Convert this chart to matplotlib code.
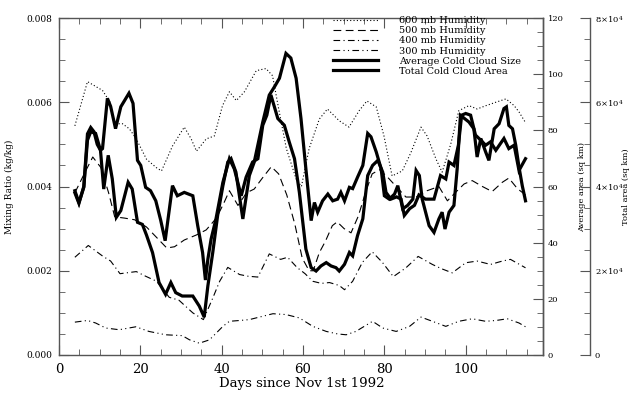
import matplotlib
matplotlib.use("Agg")
import matplotlib.pyplot as plt
from matplotlib.ticker import MultipleLocator, FuncFormatter

plt.rcParams['font.family'] = ['DejaVu Serif']
plt.rcParams['mathtext.fontset'] = 'dejavuserif'

# ---------------- data ----------------
days_600 = [3.9, 7.0, 10.7, 12.5, 13.7, 15.6, 17.3, 19.0, 21.5, 23.9, 25.2, 27.9, 30.8, 32.5, 33.8,
            36.2, 38.2, 40.2, 41.9, 43.6, 45.6, 48.5, 50.9, 52.5, 54.0, 55.9, 58.3, 59.6, 61.5, 64.0,
            66.0, 68.9, 71.3, 73.8, 75.7, 78.0, 79.9, 81.9, 84.4, 86.5, 89.0, 90.5, 92.7, 94.2, 96.3,
            98.3, 100.8, 102.8, 105.0, 107.4, 109.9, 111.9, 113.1, 114.8]
hum_600 = [0.00544, 0.00649, 0.00628, 0.00601, 0.00549, 0.00549, 0.00537, 0.00513, 0.00465, 0.00445,
           0.00437, 0.00496, 0.00541, 0.00513, 0.00484, 0.00513, 0.00520, 0.00592, 0.00625, 0.00604,
           0.00625, 0.00675, 0.00680, 0.00663, 0.00585, 0.00490, 0.00418, 0.00400, 0.00490, 0.00560,
           0.00584, 0.00556, 0.00541, 0.00580, 0.00603, 0.00589, 0.00520, 0.00425, 0.00437, 0.00480,
           0.00541, 0.00520, 0.00465, 0.00434, 0.00500, 0.00580, 0.00592, 0.00584, 0.00592, 0.00600,
           0.00608, 0.00592, 0.00577, 0.00550]

days_500 = [3.9, 6.3, 8.3, 10.3, 12.2, 13.7, 16.1, 18.6, 21.5, 23.9, 26.5, 28.4, 30.8, 33.8, 36.2,
            38.7, 40.5, 41.9, 44.0, 46.1, 48.0, 50.0, 52.2, 54.0, 56.0, 58.0, 59.8, 61.5, 62.5, 64.0,
            65.5, 67.2, 68.4, 70.1, 71.8, 73.6, 75.5, 77.0, 78.8, 80.8, 82.9, 85.3, 87.8, 90.5, 93.4,
            95.5, 97.5, 99.6, 101.6, 104.1, 106.5, 109.0, 110.6, 112.7, 114.7]
hum_500 = [0.00385, 0.00432, 0.00470, 0.00445, 0.00385, 0.00328, 0.00325, 0.00321, 0.00304, 0.00280,
           0.00254, 0.00257, 0.00273, 0.00285, 0.00297, 0.00325, 0.00360, 0.00390, 0.00355, 0.00385,
           0.00394, 0.00420, 0.00447, 0.00430, 0.00380, 0.00310, 0.00230, 0.00200, 0.00200, 0.00243,
           0.00270, 0.00307, 0.00316, 0.00300, 0.00290, 0.00330, 0.00390, 0.00430, 0.00440, 0.00422,
           0.00400, 0.00375, 0.00375, 0.00390, 0.00400, 0.00366, 0.00386, 0.00406, 0.00414, 0.00400,
           0.00388, 0.00410, 0.00420, 0.00395, 0.00380]

days_400 = [3.9, 7.2, 10.7, 12.7, 15.0, 19.0, 21.3, 24.0, 27.1, 29.5, 32.9, 35.5, 37.8, 39.5, 41.5,
            44.4, 46.5, 48.9, 51.7, 54.5, 56.2, 58.5, 60.5, 62.4, 64.5, 66.5, 68.9, 70.2, 72.2, 74.6,
            77.0, 79.5, 82.2, 85.3, 88.3, 91.8, 94.0, 96.7, 100.0, 102.8, 106.1, 109.0, 111.0, 114.7]
hum_400 = [0.00232, 0.00260, 0.00235, 0.00223, 0.00193, 0.00198, 0.00187, 0.00175, 0.00137, 0.00130,
           0.00100, 0.00084, 0.00135, 0.00175, 0.00208, 0.00191, 0.00187, 0.00185, 0.00240, 0.00227,
           0.00232, 0.00208, 0.00193, 0.00175, 0.00170, 0.00172, 0.00165, 0.00155, 0.00175, 0.00220,
           0.00245, 0.00220, 0.00186, 0.00207, 0.00234, 0.00215, 0.00205, 0.00195, 0.00219, 0.00223,
           0.00215, 0.00223, 0.00227, 0.00207]

days_300 = [3.9, 7.0, 9.0, 11.5, 14.8, 18.9, 22.1, 26.2, 30.3, 32.1, 34.5, 37.0, 40.3, 41.9, 44.5,
            46.8, 50.1, 52.6, 55.8, 59.1, 62.4, 65.7, 68.5, 70.6, 73.0, 77.1, 79.6, 82.9, 86.2, 89.0,
            91.8, 95.1, 98.3, 101.6, 104.9, 107.5, 110.2, 113.1, 114.7]
hum_300 = [0.00078, 0.00082, 0.00076, 0.00064, 0.00060, 0.00067, 0.00056, 0.00048, 0.00046, 0.00036,
           0.00028, 0.00036, 0.00068, 0.00080, 0.00082, 0.00084, 0.00092, 0.00098, 0.00096, 0.00088,
           0.00068, 0.00056, 0.00050, 0.00048, 0.00056, 0.00080, 0.00064, 0.00056, 0.00068, 0.00090,
           0.00080, 0.00068, 0.00080, 0.00086, 0.00080, 0.00082, 0.00086, 0.00076, 0.00067]

days_avg = [3.9, 4.9, 6.1, 7.0, 7.8, 9.0, 10.2, 10.7, 11.9, 12.7, 13.9, 15.2, 17.2, 18.2, 19.3, 20.1,
            21.3, 22.5, 23.8, 25.0, 26.1, 27.9, 29.1, 30.8, 32.9, 34.1, 35.3, 36.0, 36.6, 37.4, 38.6,
            40.3, 41.9, 43.1, 44.8, 46.0, 47.6, 48.9, 50.1, 51.1, 52.1, 53.8, 55.4, 56.6, 57.9, 59.1,
            60.7, 62.0, 63.2, 64.4, 65.7, 66.9, 68.1, 68.9, 70.2, 71.4, 72.2, 73.4, 74.7, 75.9, 77.1,
            78.4, 79.6, 80.4, 81.6, 83.0, 84.1, 84.9, 86.2, 87.4, 88.5, 90.1, 92.2, 93.8, 95.1, 95.9,
            97.1, 98.2, 99.0, 100.0, 101.2, 102.4, 103.7, 104.9, 106.1, 107.4, 109.4, 110.6, 111.9,
            113.1, 114.7]
avg_size = [58.5, 54.3, 59.7, 76.5, 79.5, 78.9, 72.9, 73.5, 91.4, 88.5, 80.6, 88.4, 93.2, 89.6, 69.3,
            67.5, 59.7, 58.5, 54.9, 48.0, 40.7, 60.3, 56.7, 57.9, 56.7, 46.1, 36.5, 26.7, 34.1, 41.3,
            48.5, 61.5, 69.9, 66.3, 56.7, 63.3, 68.7, 69.9, 81.8, 85.4, 92.6, 84.2, 81.8, 75.9, 69.9,
            57.9, 37.7, 31.1, 29.9, 31.7, 32.9, 31.7, 31.1, 29.9, 32.3, 36.5, 35.3, 42.5, 48.5, 63.9,
            67.5, 69.3, 65.1, 57.9, 55.5, 56.3, 55.5, 49.7, 52.1, 53.3, 57.0, 55.5, 55.5, 63.9, 62.7,
            68.7, 67.5, 74.7, 85.4, 86.0, 85.4, 78.3, 76.5, 74.7, 75.9, 72.9, 77.1, 73.5, 74.7, 65.7,
            69.9]

days_tot = [3.9, 4.9, 6.1, 7.0, 7.8, 8.6, 9.4, 10.2, 11.0, 12.1, 13.1, 14.1, 15.2, 17.0, 18.0, 19.3,
            20.5, 21.5, 23.0, 24.6, 26.2, 27.5, 28.7, 30.3, 32.9, 34.5, 35.7, 36.6, 37.8, 39.0, 40.3,
            41.5, 42.3, 43.5, 45.2, 46.8, 48.0, 50.1, 51.7, 53.0, 54.2, 55.8, 57.0, 58.3, 59.5, 60.7,
            62.0, 62.8, 63.6, 64.8, 66.1, 67.3, 68.5, 69.3, 70.2, 71.4, 72.2, 73.4, 74.7, 75.9, 76.7,
            78.0, 79.2, 80.0, 81.2, 82.5, 83.3, 84.5, 85.7, 87.0, 87.8, 88.6, 89.3, 91.0, 92.2, 93.4,
            94.2, 94.9, 95.9, 97.1, 97.9, 98.7, 100.8, 102.0, 102.8, 103.7, 104.9, 105.7, 107.0, 108.2,
            109.4, 110.0, 110.6, 111.5, 112.3, 113.1, 113.9, 114.7]
tot_area = [38500, 36000, 40000, 52500, 54000, 53000, 50000, 48600, 39400, 47400, 41800, 32700, 34300,
            41000, 39400, 31500, 31000, 28500, 24300, 17200, 14400, 17200, 14800, 14000, 14000, 11600,
            9000, 16400, 24300, 33100, 40200, 45800, 46600, 43400, 32300, 42600, 45800, 55300, 61700,
            63700, 65700, 71600, 70500, 65700, 56100, 44200, 31900, 36200, 33900, 36600, 38200, 36600,
            37000, 38600, 36600, 39800, 39500, 42200, 45000, 52600, 51800, 48200, 44200, 37800, 37000,
            38200, 40200, 34700, 35500, 37000, 43800, 42600, 37000, 30700, 29100, 32300, 33900, 29900,
            33900, 35500, 44200, 56900, 55300, 53700, 47000, 51400, 48200, 46200, 53700, 54900, 58500,
            58900, 54500, 53700, 49800, 44600, 40200, 36600]

labels = ["600 mb Humidity", "500 mb Humidity", "400 mb Humidity", "300 mb Humidity",
          "Average Cold Cloud Size", "Total Cold Cloud Area"]

# ---------------- figure ----------------
W, H = 629, 393
fig = plt.figure(figsize=(W / 100, H / 100), dpi=100)
L, R, T, B = 59, 543, 18, 355
ax = fig.add_axes([L / W, 1 - B / H, (R - L) / W, (B - T) / H])
ax2 = ax.twinx()
ax3 = ax.twinx()

spine_c = '#555555'
thin = 0.8
thick = 2.3
h1, = ax.plot(days_600, hum_600, color='k', lw=thin, ls=(0, (1, 2)))
h2, = ax.plot(days_500, hum_500, color='k', lw=thin, ls=(0, (7, 4)))
h3, = ax.plot(days_400, hum_400, color='k', lw=thin, ls=(0, (6, 3, 1, 3)))
h4, = ax.plot(days_300, hum_300, color='k', lw=thin, ls=(0, (6, 3, 1, 3, 1, 3)))
h5, = ax2.plot(days_avg, avg_size, color='k', lw=thick, solid_joinstyle='miter')
h6, = ax3.plot(days_tot, tot_area, color='k', lw=thick, solid_joinstyle='miter')

ax.set_xlim(0, 119)
ax.set_ylim(0, 0.008)
ax2.set_ylim(0, 120)
ax3.set_ylim(0, 80000)

# main axis ticks
ax.xaxis.set_major_locator(MultipleLocator(20))
ax.xaxis.set_minor_locator(MultipleLocator(5))
ax.yaxis.set_major_locator(MultipleLocator(0.002))
ax.yaxis.set_minor_locator(MultipleLocator(0.0005))
ax.yaxis.set_major_formatter(FuncFormatter(lambda v, p: f"{v:.3f}"))
ax.tick_params(axis='x', which='both', direction='in', top=True, bottom=True,
               colors=spine_c, labelcolor='k', labelsize=9.5, pad=6)
ax.tick_params(axis='x', which='major', length=7)
ax.tick_params(axis='x', which='minor', length=4)
ax.tick_params(axis='y', which='both', direction='in', left=True, right=False,
               colors=spine_c, labelcolor='k', labelsize=6.5, pad=5)
ax.tick_params(axis='y', which='major', length=7)
ax.tick_params(axis='y', which='minor', length=4)

ax2.yaxis.set_major_locator(MultipleLocator(20))
ax2.yaxis.set_minor_locator(MultipleLocator(5))
ax2.tick_params(axis='y', which='both', direction='in', colors=spine_c, labelcolor='k',
                labelsize=6, pad=3.5)
ax2.tick_params(axis='y', which='major', length=7)
ax2.tick_params(axis='y', which='minor', length=4)

ax3.spines['right'].set_position(('outward', 47 * 0.72))
ax3.yaxis.set_major_locator(MultipleLocator(20000))
ax3.yaxis.set_minor_locator(MultipleLocator(5000))
ax3.yaxis.set_major_formatter(FuncFormatter(
    lambda v, p: "0" if v == 0 else f"{int(round(v / 1e4))}×10$^{{4}}$"))
ax3.tick_params(axis='y', which='both', direction='in', colors=spine_c, labelcolor='k',
                labelsize=6, pad=3.5)
ax3.tick_params(axis='y', which='major', length=7)
ax3.tick_params(axis='y', which='minor', length=4)

for a in (ax, ax2, ax3):
    for s in a.spines.values():
        s.set_color(spine_c)
        s.set_linewidth(1.0)
for s in ('top', 'bottom', 'left'):
    ax3.spines[s].set_visible(False)
    ax2.spines[s].set_visible(False)

# labels
ax.set_xlabel("Days since Nov 1st 1992", fontsize=9.5)
ax.xaxis.set_label_coords((302 - L) / (R - L), (B - 377) / (B - T))
ax.set_ylabel("Mixing Ratio (kg/kg)", fontsize=6.5)
ax.yaxis.set_label_coords((14 - L) / (R - L), 0.5)
ax2.set_ylabel("Average area (sq km)", fontsize=6)
ax2.yaxis.set_label_coords((578 - L) / (R - L), 0.5)
ax3.set_ylabel("Total area (sq km)", fontsize=6)
ax3.yaxis.set_label_coords((622 - L) / (R - L), 0.5)

# legend
leg = ax3.legend([h1, h2, h3, h4, h5, h6], labels, loc='upper left',
                 bbox_to_anchor=(333 / W, 1 - 16 / H), bbox_transform=fig.transFigure,
                 frameon=False, fontsize=7, handlelength=4.6, handletextpad=2.2,
                 labelspacing=0.12, borderpad=0, borderaxespad=0)

fig.savefig("out.png", dpi=100)
